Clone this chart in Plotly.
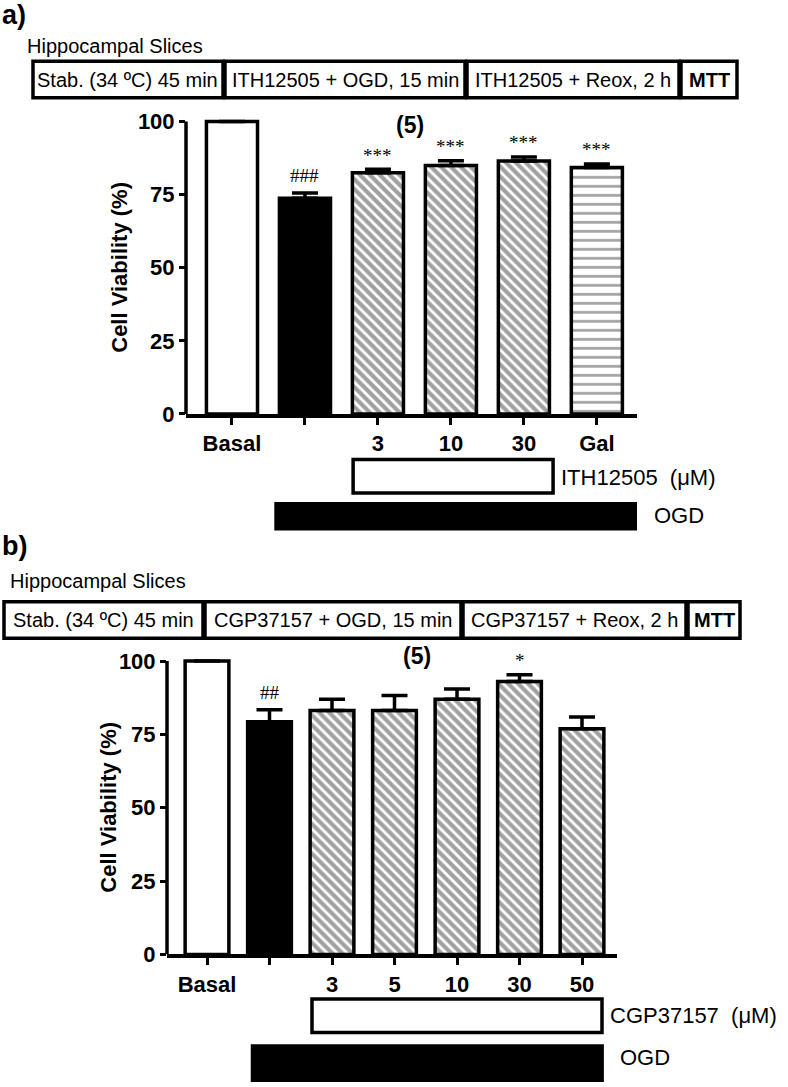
import plotly.graph_objects as go

# ---------------- data ----------------
cats_a = ["Basal", "", "3", "10", "30", "Gal"]
vals_a = [100, 73.8, 82.5, 85.0, 86.5, 84.3]
err_a = [0, 1.8, 1.2, 1.6, 1.4, 1.2]
sig_a = ["", "###", "***", "***", "***", "***"]
pat_a = ["", "", "\\", "\\", "\\", "-"]
col_a = ["white", "black", "white", "white", "white", "white"]

cats_b = ["Basal", "", "3", "5", "10", "30", "50"]
vals_b = [100, 79.3, 83.1, 83.1, 87.0, 93.0, 76.9]
err_b = [0, 4.1, 3.9, 5.1, 3.5, 2.3, 4.0]
sig_b = ["", "##", "", "", "", "*", ""]
pat_b = ["", "", "\\", "\\", "\\", "\\", "\\"]
col_b = ["white", "black", "white", "white", "white", "white", "white"]

y_ticks = [0, 25, 50, 75, 100]

proto_a = ["Stab. (34 ºC) 45 min", "ITH12505 + OGD, 15 min", "ITH12505 + Reox, 2 h", "<b>MTT</b>"]
proto_b = ["Stab. (34 ºC) 45 min", "CGP37157 + OGD, 15 min", "CGP37157 + Reox, 2 h", "<b>MTT</b>"]

W, H = 788, 1087
SANS = "Liberation Sans, Arial, sans-serif"
SERIF = "Liberation Serif, Times New Roman, serif"


def px(x):
    return x / W


def py(y):
    return 1 - y / H


def text(t, x, y, size, xanchor="center", family=SANS, **kw):
    d = dict(text=t, x=x, y=y, xref="paper", yref="paper", xanchor=xanchor,
             yanchor="middle", showarrow=False,
             font=dict(family=family, size=size, color="black"))
    d.update(kw)
    return d


def pat_size(shapes_):
    return [9 if s == "-" else 7 for s in shapes_]


def pat_solid(shapes_):
    return [0.3 if s == "-" else 0.6 for s in shapes_]


fig = go.Figure()

panels = [
    dict(cats=cats_a, vals=vals_a, err=err_a, sig=sig_a, pat=pat_a, col=col_a,
         xa="x", ya="y", xdom=(186, 637), xr=(-0.63, 5.55), y0=419, y100=123,
         title_x=120, n_label="(5)", n_xy=(410, 127),
         proto=proto_a, proto_x=[33, 225, 467, 681, 737], proto_y=(62, 99),
         letter="a)", letter_y=15, hs_x=25, hs_y=47,
         drug_box=(1.66, 4.40, 465, 499), ogd_box=(0.58, 5.55, 508, 537),
         drug_label="ITH12505  (\u03bcM)", drug_lab_xy=(559, 483), ogd_lab_xy=(652, 522)),
    dict(cats=cats_b, vals=vals_b, err=err_b, sig=sig_b, pat=pat_b, col=col_b,
         xa="x2", ya="y2", xdom=(167, 617), xr=(-0.64, 6.56), y0=966, y100=669,
         title_x=109, n_label="(5)", n_xy=(417, 664),
         proto=proto_b, proto_x=[4, 205, 463, 688, 740], proto_y=(609, 646),
         letter="b)", letter_y=553, hs_x=8, hs_y=588,
         drug_box=(1.68, 6.32, 1011, 1045), ogd_box=(0.70, 6.35, 1057, 1095),
         drug_label="CGP37157  (\u03bcM)", drug_lab_xy=(608, 1028), ogd_lab_xy=(618, 1070)),
]

shapes = []
annotations = []
layout_axes = {}

for i, p in enumerate(panels):
    n = len(p["cats"])
    xs = list(range(n))
    fig.add_trace(go.Bar(
        x=xs, y=p["vals"], xaxis=p["xa"], yaxis=p["ya"], width=0.70,
        marker=dict(color=p["col"], line=dict(color="black", width=3.5),
                    pattern=dict(shape=p["pat"], fgcolor="black", bgcolor="white",
                                 size=pat_size(p["pat"]), solidity=pat_solid(p["pat"]))),
        error_y=dict(type="data", array=p["err"], arrayminus=[0] * n, symmetric=False,
                     color="black", thickness=3.5, width=13),
        showlegend=False, hoverinfo="skip",
    ))
    ppu = (p["y0"] - p["y100"]) / 100.0
    ytop_val = 104
    top_px = p["y0"] - ytop_val * ppu
    xkey = "xaxis" if i == 0 else "xaxis2"
    ykey = "yaxis" if i == 0 else "yaxis2"
    layout_axes[xkey] = dict(
        domain=[px(p["xdom"][0]), px(p["xdom"][1])], range=list(p["xr"]),
        anchor=p["ya"], tickmode="array", tickvals=xs,
        ticktext=[f"<b>{c}</b>" for c in p["cats"]],
        ticks="outside", ticklen=7, tickwidth=3, tickcolor="black",
        showline=True, linewidth=3.5, linecolor="black", showgrid=False, zeroline=False,
        tickfont=dict(family=SANS, size=22, color="black"), fixedrange=True,
    )
    layout_axes[ykey] = dict(
        domain=[py(p["y0"]), py(top_px)], range=[0, ytop_val], anchor=p["xa"],
        tickmode="array", tickvals=y_ticks, ticktext=[f"<b>{t}</b>" for t in y_ticks],
        ticks="outside", ticklen=6, tickwidth=3, tickcolor="black",
        showline=False, showgrid=False, zeroline=False,
        tickfont=dict(family=SANS, size=22, color="black"), fixedrange=True,
    )
    shapes.append(dict(type="line", xref=f"{p['xa']} domain", yref=p["ya"],
                       x0=0, x1=0, y0=0, y1=100, line=dict(color="black", width=3.5)))
    annotations.append(text("<b>Cell Viability (%)</b>", px(p["title_x"]),
                            py((p["y0"] + p["y100"]) / 2), 22, textangle=-90))
    for k, s in enumerate(p["sig"]):
        if not s:
            continue
        shift = 17 if "#" in s else 14
        annotations.append(dict(text=s, x=xs[k], y=p["vals"][k] + p["err"][k],
                                xref=p["xa"], yref=p["ya"], xanchor="center",
                                yanchor="middle", yshift=shift, showarrow=False,
                                font=dict(family=SERIF, size=19, color="black")))
    annotations.append(text(f"<b>{p['n_label']}</b>", px(p["n_xy"][0]), py(p["n_xy"][1]), 23))
    annotations.append(text(f"<b>{p['letter']}</b>", 0, py(p["letter_y"]), 27, xanchor="left"))
    annotations.append(text("Hippocampal Slices", px(p["hs_x"]), py(p["hs_y"]), 20,
                            xanchor="left"))
    xb = p["proto_x"]
    for k, label in enumerate(p["proto"]):
        x0 = xb[k]
        x1 = xb[k + 1] - (2 if k < len(p["proto"]) - 1 else 0)
        shapes.append(dict(type="rect", xref="paper", yref="paper",
                           x0=px(x0), x1=px(x1), y0=py(p["proto_y"][1]), y1=py(p["proto_y"][0]),
                           line=dict(color="black", width=3.5), fillcolor="white", layer="below"))
        annotations.append(text(label, px((x0 + x1) / 2), py(sum(p["proto_y"]) / 2), 20))
    dx0, dx1, dy0, dy1 = p["drug_box"]
    shapes.append(dict(type="rect", xref=p["xa"], yref="paper", x0=dx0, x1=dx1,
                       y0=py(dy1), y1=py(dy0), line=dict(color="black", width=3.5),
                       fillcolor="white"))
    ox0, ox1, oy0, oy1 = p["ogd_box"]
    shapes.append(dict(type="rect", xref=p["xa"], yref="paper", x0=ox0, x1=ox1,
                       y0=py(oy1), y1=py(oy0), line=dict(color="black", width=0),
                       fillcolor="black"))
    annotations.append(text(p["drug_label"], px(p["drug_lab_xy"][0]), py(p["drug_lab_xy"][1]),
                            22, xanchor="left"))
    annotations.append(text("OGD", px(p["ogd_lab_xy"][0]), py(p["ogd_lab_xy"][1]),
                            22, xanchor="left"))

fig.update_layout(
    width=W, height=H, margin=dict(l=0, r=0, t=0, b=0),
    paper_bgcolor="white", plot_bgcolor="white",
    shapes=shapes, annotations=annotations, bargap=0.3,
    **layout_axes,
)

fig.write_html("out.html", config={"displayModeBar": False},
               post_script="document.body.style.margin='0';document.body.style.padding='0';"
                           "document.documentElement.style.overflow='hidden';")
